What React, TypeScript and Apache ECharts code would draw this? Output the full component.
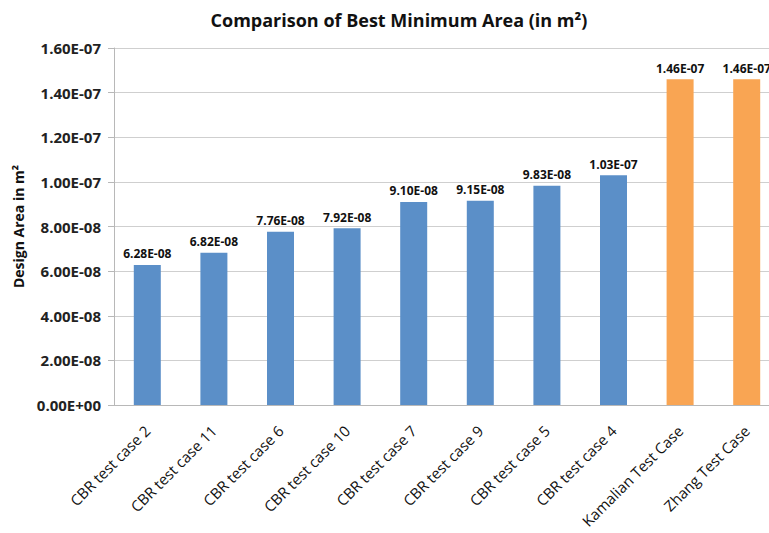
import React, { useEffect, useRef } from "react";
import * as echarts from "echarts";

const categories = [
  "CBR test case 2",
  "CBR test case 11",
  "CBR test case 6",
  "CBR test case 10",
  "CBR test case 7",
  "CBR test case 9",
  "CBR test case 5",
  "CBR test case 4",
  "Kamalian Test Case",
  "Zhang Test Case",
];
const values = [6.28e-8, 6.82e-8, 7.76e-8, 7.92e-8, 9.1e-8, 9.15e-8, 9.83e-8, 1.03e-7, 1.46e-7, 1.46e-7];
const barColors = ["#5B8FC8", "#5B8FC8", "#5B8FC8", "#5B8FC8", "#5B8FC8", "#5B8FC8", "#5B8FC8", "#5B8FC8", "#F9A553", "#F9A553"];

const FONT = "'Open Sans', 'Noto Sans', sans-serif";

function sci(v: number): string {
  if (v === 0) return "0.00E+00";
  const exp = Math.floor(Math.log10(Math.abs(v)) + 1e-9);
  const mant = v / Math.pow(10, exp);
  const sign = exp < 0 ? "-" : "+";
  const e = Math.abs(exp).toString().padStart(2, "0");
  return mant.toFixed(2) + "E" + sign + e;
}

export default function App() {
  const ref = useRef<HTMLDivElement>(null);
  useEffect(() => {
    if (!ref.current) return;
    const chart = echarts.init(ref.current, undefined, { renderer: "svg" });
    chart.setOption({
      animation: false,
      backgroundColor: "#ffffff",
      title: {
        text: "Comparison of Best Minimum Area (in m²)",
        left: 394,
        top: 6,
        textAlign: "center",
        textStyle: { fontFamily: FONT, fontWeight: "bold", fontSize: 18, color: "#111" },
      },
      grid: { left: 114, right: 0, top: 48, bottom: 128, containLabel: false },
      xAxis: {
        type: "category",
        data: categories,
        axisLine: { lineStyle: { color: "#b8b8b8" } },
        axisTick: { show: false },
        axisLabel: {
          rotate: 45,
          interval: 0,
          margin: 23,
          fontFamily: FONT,
          fontSize: 15,
          color: "#111",
        },
      },
      yAxis: {
        type: "value",
        min: 0,
        max: 1.6e-7,
        interval: 2e-8,
        name: "Design Area in m²",
        nameLocation: "middle",
        nameGap: 84,
        nameTextStyle: {
          fontFamily: FONT,
          fontWeight: "bold",
          fontSize: 14,
          color: "#111",
        },
        axisLine: { show: true, lineStyle: { color: "#b8b8b8" } },
        axisTick: { show: true, length: 6, lineStyle: { color: "#b8b8b8" } },
        splitLine: { lineStyle: { color: "#cfcfcf" } },
        axisLabel: {
          formatter: (v: number) => sci(v),
          fontFamily: FONT,
          fontSize: 15,
          fontWeight: "bold",
          color: "#222",
          margin: 13,
        },
      },
      series: [
        {
          type: "bar",
          data: values.map((v, i) => ({ value: v, itemStyle: { color: barColors[i] } })),
          barWidth: 27,
          label: {
            show: true,
            position: "top",
            distance: 5,
            formatter: (p: any) => sci(p.value),
            fontFamily: FONT,
            fontWeight: "bold",
            fontSize: 12,
            color: "#111",
          },
        },
      ],
    });
    return () => chart.dispose();
  }, []);
  return (
    <div
      ref={ref}
      style={{ position: "fixed", left: 0, top: 0, width: 780, height: 533 }}
    />
  );
}
